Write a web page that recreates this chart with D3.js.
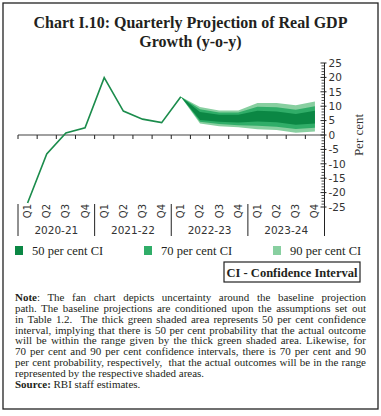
<!DOCTYPE html>
<html>
<head>
<meta charset="utf-8">
<script src="https://cdn.jsdelivr.net/npm/d3@7"></script>
<style>
  html, body { margin: 0; padding: 0; background: #fff; }
  svg { display: block; }
</style>
</head>
<body>
<svg id="chart" width="381" height="416"></svg>
<script>
// ---- data ----
const years = ["2020-21", "2021-22", "2022-23", "2023-24"];
const quarterNames = ["Q1", "Q2", "Q3", "Q4"];
const categories = years.flatMap(y => quarterNames.map(q => y + " " + q));
const actualValues = [-23.6, -6.6, 0.7, 2.5, 19.9, 8.3, 5.5, 4.3, 13.3];
const fanStart = 8; // index of first fan quarter (2022-23 Q1)
const ci50Lower = [13.3, 5.2, 4.6, 4.3, 4.7, 4.4, 3.6, 4.0];
const ci50Upper = [13.3, 8.0, 7.0, 7.0, 8.4, 8.2, 7.3, 8.4];
const ci70Lower = [13.3, 4.6, 3.8, 3.4, 3.2, 2.9, 2.1, 2.5];
const ci70Upper = [13.3, 8.9, 7.8, 7.8, 9.8, 9.6, 8.8, 10.0];
const ci90Lower = [13.3, 4.0, 3.0, 2.7, 2.0, 1.7, 0.8, 1.2];
const ci90Upper = [13.3, 9.7, 8.5, 8.5, 11.1, 11.1, 10.3, 11.6];
const yTicks = [-25, -20, -15, -10, -5, 0, 5, 10, 15, 20, 25];
const legendLabels = ["50 per cent CI", "70 per cent CI", "90 per cent CI"];
const titleLines = ["Chart I.10: Quarterly Projection of Real GDP", "Growth (y-o-y)"];
const noteLines = [
  "The fan chart depicts uncertainty around the baseline projection",
  "path. The baseline projections are conditioned upon the assumptions set out",
  "in Table 1.2.  The thick green shaded area represents 50 per cent confidence",
  "interval, implying that there is 50 per cent probability that the actual outcome",
  "will be within the range given by the thick green shaded area. Likewise, for",
  "70 per cent and 90 per cent confidence intervals, there is 70 per cent and 90",
  "per cent probability, respectively,  that the actual outcomes will be in the range",
  "represented by the respective shaded areas."
];
const sourceText = "RBI staff estimates.";

// ---- styles ----
const colors = { ci50: "#0b8744", ci70: "#30ad68", ci90: "#88cfa0", line: "#1b8c4c" };
const serif = "'Liberation Serif', 'DejaVu Serif', serif";
const sans = "'DejaVu Sans', Verdana, sans-serif";

const svg = d3.select("#chart");

// border
svg.append("rect").attr("x", 3).attr("y", 3).attr("width", 375).attr("height", 406)
  .attr("fill", "none").attr("stroke", "#222").attr("stroke-width", 1.3);

// title
const titleW = 314;
let titleFs = 16;
titleLines.forEach((t, i) => {
  const el = svg.append("text").attr("x", 190.5).attr("y", 28 + i * 18.5)
    .attr("text-anchor", "middle").attr("font-family", serif).attr("font-weight", "bold")
    .attr("font-size", 16).attr("fill", "#231f20").text(t);
  if (i === 0) {
    const w = el.node().getComputedTextLength();
    titleFs = 16 * titleW / w;
  }
  el.attr("font-size", titleFs);
});

// scales
const x = d3.scaleBand().domain(categories).range([18, 324.5]).padding(0);
const cx = d => x(d) + x.bandwidth() / 2;
const y = d3.scaleLinear().domain([-25, 25]).range([207, 63]);

// fan
const fanCats = categories.slice(fanStart, fanStart + ci50Lower.length);
const area = (lo, hi) => d3.area()
  .x((d, i) => cx(fanCats[i]))
  .y0((d, i) => y(lo[i]))
  .y1((d, i) => y(hi[i]))
  .curve(d3.curveLinear)(fanCats);
svg.append("path").attr("d", area(ci90Lower, ci90Upper)).attr("fill", colors.ci90);
svg.append("path").attr("d", area(ci70Lower, ci70Upper)).attr("fill", colors.ci70);
svg.append("path").attr("d", area(ci50Lower, ci50Upper)).attr("fill", colors.ci50);

// zero line
svg.append("line").attr("x1", 18).attr("x2", 324.5).attr("y1", y(0)).attr("y2", y(0))
  .attr("stroke", "#a0a0a0").attr("stroke-width", 2);
// category boundary ticks on zero line
svg.append("g").selectAll("line").data(categories).join("line")
  .attr("x1", d => x(d)).attr("x2", d => x(d))
  .attr("y1", y(0)).attr("y2", y(0) + 4)
  .attr("stroke", "#222").attr("stroke-width", 1);

// actual line
const line = d3.line().x((d, i) => cx(categories[i])).y(d => y(d));
svg.append("path").attr("d", line(actualValues)).attr("fill", "none")
  .attr("stroke", colors.line).attr("stroke-width", 1.6).attr("stroke-linejoin", "miter");

// y axis on right
const axisX = 324.5;
const yAxisG = svg.append("g").attr("transform", `translate(${axisX},0)`);
yAxisG.append("line").attr("x1", 0).attr("x2", 0).attr("y1", y(25)).attr("y2", y(-25))
  .attr("stroke", "#222").attr("stroke-width", 1);
const minor = d3.range(-25, 26, 1).filter(v => v % 5 !== 0);
yAxisG.selectAll(".minor").data(minor).join("line").attr("class", "minor")
  .attr("x1", -3).attr("x2", 0).attr("y1", d => y(d)).attr("y2", d => y(d))
  .attr("stroke", "#222").attr("stroke-width", 0.8);
yAxisG.selectAll(".major").data(yTicks).join("line").attr("class", "major")
  .attr("x1", -4).attr("x2", 2).attr("y1", d => y(d)).attr("y2", d => y(d))
  .attr("stroke", "#222").attr("stroke-width", 1);
yAxisG.selectAll(".lab").data(yTicks).join("text").attr("class", "lab")
  .attr("x", 4).attr("y", d => y(d)).attr("dy", "0.36em")
  .attr("font-family", sans).attr("font-size", 10.5).attr("fill", "#333")
  .text(d => String(d));
svg.append("text").attr("transform", `translate(358,${y(0)}) rotate(-90)`)
  .attr("text-anchor", "middle").attr("dy", "0.35em")
  .attr("font-family", serif).attr("font-size", 13).attr("fill", "#333").text("Per cent");

// x labels (quarters)
svg.append("g").selectAll("text").data(categories).join("text")
  .attr("transform", d => `translate(${cx(d) + 3.5},204) rotate(-90)`)
  .attr("text-anchor", "end")
  .attr("font-family", sans).attr("font-size", 10).attr("fill", "#333")
  .text(d => d.split(" ")[1]);
// year separators
const sepX = years.map(yr => x(yr + " Q1")).concat([324.5]);
svg.append("g").selectAll("line").data(sepX).join("line")
  .attr("x1", d => d).attr("x2", d => d).attr("y1", 204).attr("y2", 236)
  .attr("stroke", "#222").attr("stroke-width", 1);
svg.append("g").selectAll("text").data(years).join("text")
  .attr("x", yr => (x(yr + " Q1") + x(yr + " Q4") + x.bandwidth()) / 2)
  .attr("y", 234).attr("text-anchor", "middle")
  .attr("font-family", sans).attr("font-size", 10.5).attr("fill", "#333")
  .text(d => d);

// legend
const legendX = [15, 144, 273];
const legendColors = [colors.ci50, colors.ci70, colors.ci90];
legendLabels.forEach((lab, i) => {
  svg.append("rect").attr("x", legendX[i]).attr("y", 246).attr("width", 8).attr("height", 9)
    .attr("fill", legendColors[i]);
  svg.append("text").attr("x", legendX[i] + 17).attr("y", 255)
    .attr("font-family", serif).attr("font-size", 12.5).attr("fill", "#231f20").text(lab);
});
// CI box
svg.append("rect").attr("x", 224).attr("y", 262).attr("width", 136).attr("height", 20)
  .attr("fill", "none").attr("stroke", "#222").attr("stroke-width", 1.2);
svg.append("text").attr("x", 292).attr("y", 276.5).attr("text-anchor", "middle")
  .attr("font-family", serif).attr("font-weight", "bold").attr("font-size", 12.5)
  .attr("fill", "#231f20").text("CI - Confidence Interval");

// note (justified)
const noteLeft = 15, noteRight = 366, noteBase = 301, lh = 10.85;
const noteEls = noteLines.map((t, i) => {
  const el = svg.append("text").attr("x", noteLeft).attr("y", noteBase + i * lh)
    .attr("font-family", serif).attr("font-size", 10).attr("fill", "#231f20")
    .attr("xml:space", "preserve");
  if (i === 0) {
    el.append("tspan").attr("font-weight", "bold").text("Note");
    el.append("tspan").text(": " + t);
  } else {
    el.text(t);
  }
  return el;
});
// pick a font size so that the longest line fits with a little spacing left
let maxW = d3.max(noteEls, el => el.node().getComputedTextLength());
const noteFs = Math.min(11.2, 10 * (noteRight - noteLeft) / maxW * 0.985);
noteEls.forEach((el, i) => {
  el.attr("font-size", noteFs);
  if (i < noteLines.length - 1) {
    const full = (i === 0 ? "Note: " : "") + noteLines[i];
    const spaces = (full.match(/ /g) || []).length;
    const w = el.node().getComputedTextLength();
    el.attr("word-spacing", (noteRight - noteLeft - w) / spaces);
  }
});
const src = svg.append("text").attr("x", noteLeft).attr("y", noteBase + noteLines.length * lh)
  .attr("font-family", serif).attr("font-size", noteFs).attr("fill", "#231f20");
src.append("tspan").attr("font-weight", "bold").text("Source:");
src.append("tspan").text(" " + sourceText);
</script>
</body>
</html>
